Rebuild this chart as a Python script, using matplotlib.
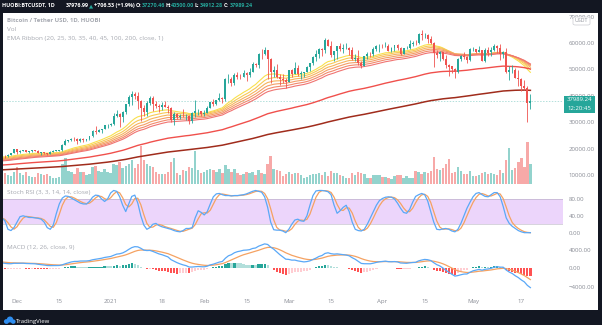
import numpy as np
import pandas as pd
import matplotlib
matplotlib.use("Agg")
import matplotlib.pyplot as plt
from matplotlib.patches import Rectangle, Ellipse, FancyBboxPatch

# ---------------- data (HUOBI BTCUSDT, daily, 2020-11-26 .. 2021-05-20) ----------------
start_date = "2020-11-26"
ref_date = "2020-12-01"

opens = [18719, 17149, 17139, 17719, 18185,
         19696, 18765, 19204, 19422, 18650, 19148, 19359, 19166, 18324, 18541, 18254, 18036, 18808, 19175, 19273, 19426, 21335, 22797, 23107, 23821, 23455, 22719, 23810, 23232, 23729, 24712, 26493, 26281, 27079, 27385, 28875,
         28923, 29331, 32176, 33000, 31989, 33950, 36769, 39433, 40586, 40088, 38150, 35410, 34049, 37371, 39145, 36737, 35994, 35824, 36623, 35901, 35468, 30851, 32950, 32078, 32259, 32254, 32464, 30362, 33368, 34246, 34262,
         33092, 33517, 35472, 37620, 36936, 38289, 39181, 38795, 46374, 46420, 44807, 47968, 47298, 47156, 48580, 47911, 49134, 52117, 51552, 55906, 55841, 57412, 54087, 48891, 49676, 47073, 46277, 46103,
         45134, 49596, 48436, 50349, 48374, 48746, 48882, 50959, 52376, 54874, 55851, 57773, 57221, 61188, 58976, 55605, 56900, 58912, 57641, 58030, 58100, 57352, 54083, 54342, 52303, 51293, 55025, 55817, 55782, 57629, 58730,
         58739, 58720, 58981, 57094, 58216, 59124, 57988, 55954, 58087, 58092, 59778, 59999, 59860, 63576, 62959, 63159, 61334, 60006, 56150, 55663, 56471, 53813, 51739, 51102, 50047, 49004, 54030, 55033, 54825, 53556,
         57714, 57826, 56621, 57200, 53333, 57424, 56413, 57353, 58803, 58232, 55860, 56704, 49150, 49682, 49880, 46760, 46426, 43538, 42910, 37270]

highs = [18915, 17457, 17854, 18360, 19863,
         19889, 19342, 19566, 19527, 19177, 19420, 19420, 19294, 18639, 18557, 18292, 18948, 19411, 19350, 19570, 21560, 23800, 23285, 24171, 24295, 24102, 23837, 24100, 23794, 24789, 26867, 28422, 27500, 27410, 28996, 29300,
         29600, 33300, 34778, 33600, 34360, 36939, 40365, 41950, 41380, 41350, 38264, 36628, 37850, 40100, 39747, 37950, 36852, 37469, 37850, 36415, 35600, 33826, 33456, 32944, 34880, 32921, 32557, 33783, 38531, 34933, 34288,
         34717, 35984, 37662, 38708, 38310, 40955, 39700, 46794, 48200, 47310, 48678, 48985, 48150, 49707, 49010, 50689, 52618, 52530, 56368, 57700, 58352, 57508, 54183, 51374, 52041, 48424, 48394, 46638,
         49790, 50200, 52640, 51773, 49448, 49200, 51450, 52402, 54895, 57387, 58150, 58058, 61844, 61616, 60633, 56938, 58996, 60100, 59468, 59880, 58589, 58430, 55830, 57200, 53237, 55073, 56700, 56559, 58400, 59368, 59800,
         59490, 60200, 59791, 58500, 59252, 59475, 58650, 58153, 58869, 61218, 60659, 61300, 63777, 64854, 63800, 63520, 62500, 60499, 57526, 57000, 56757, 55460, 52120, 51166, 50567, 54356, 55466, 56428, 55200, 57963,
         58458, 57912, 58981, 57237, 57939, 58400, 58650, 59500, 59300, 59600, 56870, 58000, 51367, 51560, 50700, 49800, 46643, 45800, 43546, 40500]

lows = [16188, 16438, 16865, 17517, 18185,
        18001, 18330, 18925, 18565, 18500, 18857, 18902, 18200, 17650, 17911, 17572, 18021, 18711, 19000, 19050, 19278, 21230, 22350, 22750, 23060, 21815, 22353, 22600, 22703, 23433, 24500, 25700, 26101, 25880, 27320, 27850,
        28624, 28946, 31962, 28130, 29900, 33288, 36300, 36500, 38720, 35111, 30420, 32531, 32380, 36701, 34408, 35357, 33850, 34800, 35844, 33400, 30071, 28850, 31390, 31106, 32000, 30837, 29241, 29842, 31915, 32825, 32270,
        32296, 33418, 35362, 36161, 36570, 38215, 37351, 37988, 45000, 43727, 43994, 46400, 46202, 47014, 45500, 47003, 48947, 50901, 50710, 53863, 55477, 46200, 44892, 47003, 46751, 44108, 45000, 43000,
        45115, 47047, 48100, 47500, 46300, 47070, 48882, 49274, 51845, 53005, 54272, 55013, 56078, 58966, 54600, 53271, 54124, 57023, 56270, 57820, 55450, 53650, 53000, 51700, 50427, 51283, 53966, 54691, 54901, 57072, 56769,
        57935, 58428, 56955, 56478, 56817, 57333, 55473, 55700, 57670, 57875, 59017, 59360, 59770, 61301, 62020, 60000, 59580, 50931, 54221, 53329, 53695, 50400, 47500, 48750, 46930, 48753, 53222, 53813, 52330, 53013,
        57053, 56044, 56436, 53046, 52901, 55200, 55250, 56957, 56235, 53400, 54370, 48600, 46000, 48805, 46650, 43825, 42001, 42250, 30000, 34912]

closes = [17149, 17139, 17719, 18185, 19696,
          18765, 19204, 19422, 18650, 19148, 19359, 19166, 18324, 18541, 18254, 18036, 18808, 19175, 19273, 19426, 21335, 22797, 23107, 23821, 23455, 22719, 23810, 23232, 23729, 24712, 26493, 26281, 27079, 27385, 28875, 28923,
          29331, 32178, 33000, 31988, 33950, 36769, 39432, 40582, 40088, 38150, 35404, 34051, 37371, 39144, 36742, 35994, 35828, 36631, 35891, 35468, 30850, 32945, 32078, 32259, 32254, 32467, 30366, 33364, 34252, 34262, 33092,
          33526, 35466, 37618, 36936, 38290, 39186, 38795, 46374, 46420, 44807, 47969, 47287, 47153, 48577, 47911, 49133, 52119, 51552, 55906, 55841, 57408, 54087, 48892, 49676, 47073, 46276, 46106, 45135,
          49587, 48440, 50349, 48374, 48751, 48882, 50971, 52376, 54884, 55851, 57773, 57221, 61188, 58968, 55605, 56900, 58912, 57648, 58030, 58102, 57351, 54083, 54340, 52303, 51293, 55025, 55817, 55777, 57628, 58730, 58740,
          58720, 58981, 57094, 58215, 59124, 57988, 56000, 58089, 58090, 59778, 59999, 59860, 63575, 62959, 63159, 61334, 60006, 56150, 55633, 56473, 53813, 51758, 51094, 50047, 49004, 54021, 55034, 54824, 53555, 57750,
          57828, 56631, 57200, 53333, 57424, 56397, 57357, 58803, 58232, 55860, 56704, 49150, 49716, 49880, 46760, 46456, 43538, 42910, 37270, 37989.24]

volumes = [40, 28, 22, 20, 30,
           42, 28, 22, 30, 20, 18, 17, 27, 25, 22, 25, 20, 16, 15, 18, 50, 65, 33, 30, 25, 40, 30, 30, 22, 25, 42, 45, 33, 30, 37, 30,
           28, 50, 48, 55, 40, 45, 50, 60, 40, 50, 95, 60, 50, 45, 42, 30, 25, 25, 25, 30, 55, 65, 28, 22, 35, 33, 42, 40, 82, 35, 28,
           30, 35, 38, 35, 30, 38, 28, 48, 38, 30, 38, 28, 22, 25, 30, 28, 30, 22, 35, 28, 25, 50, 70, 38, 35, 33, 20, 25,
           30, 25, 28, 28, 22, 15, 18, 22, 25, 25, 28, 22, 30, 20, 33, 28, 28, 22, 20, 15, 15, 28, 22, 30, 28, 25, 15, 15, 22, 22, 22,
           18, 18, 15, 12, 20, 22, 22, 15, 20, 15, 15, 33, 30, 25, 30, 28, 33, 68, 38, 35, 40, 50, 62, 28, 30, 42, 33, 25, 25, 33,
           20, 20, 22, 28, 30, 25, 28, 25, 22, 35, 28, 60, 90, 35, 40, 55, 65, 42, 105, 50]

stoch_k = [35, 28, 8, 5, 12,
           25, 38, 40, 38, 36, 36, 35, 34, 32, 25, 12, 8, 18, 45, 68, 82, 87, 86, 82, 78, 74, 70, 68, 68, 74, 84, 89, 88, 80, 74, 80,
           94, 100, 98, 85, 65, 50, 68, 86, 89, 70, 40, 18, 8, 12, 20, 22, 17, 14, 12, 10, 8, 5, 3, 2, 5, 10, 10, 12, 35, 52, 48,
           42, 50, 68, 85, 92, 93, 90, 88, 88, 87, 88, 88, 89, 90, 92, 95, 98, 100, 98, 96, 85, 60, 25, 7, 6, 6, 4, 0,
           8, 20, 30, 32, 28, 27, 40, 65, 88, 99, 100, 100, 99, 97, 90, 65, 46, 52, 60, 65, 50, 25, 8, 5, 4, 8, 20, 35, 50, 65, 76,
           81, 84, 85, 84, 80, 70, 58, 48, 46, 55, 72, 86, 90, 93, 90, 75, 50, 25, 8, 7, 9, 10, 8, 4, 2, 8, 22, 40, 58, 72,
           85, 93, 95, 90, 86, 85, 90, 95, 95, 85, 62, 35, 22, 15, 10, 5, 2, 0, 0, 0]

# indicator settings and starting values read at the left edge of the chart
ribbon_lengths = [20, 25, 30, 35, 40, 45]
ribbon_seeds = [16800, 16450, 16100, 15800, 15500, 15250]
ema100_seed, ema200_seed = 13700, 11900
macd_fast_seed, macd_slow_seed, macd_signal_seed = 17550, 16250, 1400

tick_dates = ["2020-12-01", "2020-12-15", "2021-01-01", "2021-01-18", "2021-02-01", "2021-02-15",
              "2021-03-01", "2021-03-15", "2021-04-01", "2021-04-15", "2021-05-01", "2021-05-17"]
tick_labels = ["Dec", "15", "2021", "18", "Feb", "15", "Mar", "15", "Apr", "15", "May", "17"]

price_ticks = [10000, 20000, 30000, 40000, 50000, 60000, 70000]
stoch_ticks = [0, 40, 80]
macd_ticks = [-4000, 0, 4000]

# ---------------- derived ----------------
o = np.array(opens, float); h = np.array(highs, float)
l = np.array(lows, float); c = np.array(closes, float)
v = np.array(volumes, float)
dates = pd.date_range(start_date, periods=len(c), freq="D")
x = np.array((dates - pd.Timestamp(ref_date)).days, float)


def ema(values, length, seed):
    a = 2.0 / (length + 1)
    out, prev = [], seed
    for val in values:
        prev = prev + a * (val - prev)
        out.append(prev)
    return np.array(out)


ribbons = [ema(c, n, s) for n, s in zip(ribbon_lengths, ribbon_seeds)]
e100 = ema(c, 100, ema100_seed)
e200 = ema(c, 200, ema200_seed)
macd = ema(c, 12, macd_fast_seed) - ema(c, 26, macd_slow_seed)
signal = ema(macd, 9, macd_signal_seed)
hist = macd - signal
k = np.array(stoch_k, float)
d = pd.Series(k).rolling(3, min_periods=1).mean().values

# ---------------- figure ----------------
W, H = 602, 325
plt.rcParams['font.family'] = ['Open Sans', 'DejaVu Sans']
fig = plt.figure(figsize=(W / 100, H / 100), dpi=100)
DARK = '#131722'
fig.patch.set_facecolor(DARK)


def box(x0, y0, x1, y1):
    return [x0 / W, 1 - y1 / H, (x1 - x0) / W, (y1 - y0) / H]


def fxy(px, py):
    return px / W, 1 - py / H


fig.add_artist(Rectangle(fxy(3, 310), 595 / W, 297 / H, transform=fig.transFigure,
                         fc='white', ec='none', zorder=-10))

ax_vol = fig.add_axes(box(3, 13, 563, 184))
ax = fig.add_axes(box(3, 13, 563, 184))
ax_st = fig.add_axes(box(3, 185, 563, 238))
ax_md = fig.add_axes(box(3, 239, 563, 293))

XL = (-4.64, 180.8)
TXT = '#8A8D96'
for a in (ax_vol, ax, ax_st, ax_md):
    a.set_facecolor('none')
    for s in a.spines.values():
        s.set_visible(False)
    a.set_xlim(*XL)
    a.tick_params(axis='x', bottom=False, labelbottom=False)
    a.tick_params(axis='y', left=False, labelleft=False)

UP, DN = '#26A69A', '#EF5350'
up = c >= o
cols = np.where(up, UP, DN)

# volume
ax_vol.set_ylim(0, v.max() * 171 / 42)
ax_vol.bar(x, v, width=0.8, color=np.where(up, '#93D3CD', '#F7A9A8'), lw=0)
ax_vol.set_yticks([])

# price pane
ax.set_ylim(6591, 71364)
ax.axhline(c[-1], color='#26A69A', lw=0.7, alpha=0.35, ls=(0, (1.5, 1.5)), zorder=1)
ribbon_cols = ['#F9E04C', '#F8C956', '#F6B45E', '#F49E66', '#F2896C', '#F07472']
for r, col in zip(ribbons, ribbon_cols):
    ax.plot(x, r, color=col, lw=0.8, zorder=2)
ax.plot(x, e100, color='#F0504C', lw=1.0, zorder=2)
ax.plot(x, e200, color='#A02C1C', lw=1.1, zorder=2)
ax.vlines(x, l, h, colors=cols, lw=0.6, zorder=3)
body = np.maximum(np.abs(c - o), 120)
ax.bar(x, body, bottom=np.minimum(o, c), width=0.64, color=cols, lw=0, zorder=4)

ax.yaxis.tick_right()
ax.set_yticks(price_ticks)
ax.set_yticklabels([f"{t:.2f}" for t in price_ticks])
ax.tick_params(axis='y', right=True, labelright=True, length=0, pad=4.3,
               labelsize=4.4, labelcolor=TXT)

# stoch RSI pane
ax_st.set_ylim(-12.6, 113)
ax_st.fill_between(XL, 20, 80, color='#ECD5FB', lw=0, zorder=0)
for lev in (20, 80):
    ax_st.axhline(lev, color='#A09AAE', lw=0.6, ls=(0, (1.2, 1.2)), zorder=1)
ax_st.plot(x, k, color='#5AA8F7', lw=0.9, zorder=3)
ax_st.plot(x, d, color='#F5A262', lw=0.9, zorder=2)
ax_st.yaxis.tick_right()
ax_st.set_yticks(stoch_ticks)
ax_st.set_yticklabels([f"{t:.2f}" for t in stoch_ticks])
ax_st.tick_params(axis='y', right=True, labelright=True, length=0, pad=4.3,
                  labelsize=4.4, labelcolor=TXT)

# MACD pane
ax_md.set_ylim(-5310, 6300)
prev = np.concatenate([[hist[0]], hist[:-1]])
hcols = np.where(hist >= 0,
                 np.where(hist >= prev, '#26A69A', '#B2DFDB'),
                 np.where(hist >= prev, '#FFCDD2', '#FF5252'))
ax_md.bar(x, hist, width=0.75, color=hcols, lw=0, zorder=1)
ax_md.plot(x, macd, color='#5AA8F7', lw=0.9, zorder=3)
ax_md.plot(x, signal, color='#F5A262', lw=0.9, zorder=2)
ax_md.yaxis.tick_right()
ax_md.set_yticks(macd_ticks)
ax_md.set_yticklabels([f"{t:.2f}".replace('-', '\u2212') for t in macd_ticks])
ax_md.tick_params(axis='y', right=True, labelright=True, length=0, pad=4.3,
                  labelsize=4.4, labelcolor=TXT)
tx = (pd.to_datetime(tick_dates) - pd.Timestamp(ref_date)).days
ax_md.set_xticks(tx)
ax_md.set_xticklabels(tick_labels)
ax_md.tick_params(axis='x', bottom=True, labelbottom=True, length=0, pad=4.3,
                  labelsize=4.4, labelcolor=TXT)

# pane legends
LG = '#A5A8B0'
fig.text(*fxy(7, 20.5), "Bitcoin / Tether USD, 1D, HUOBI", fontsize=4.3, color=LG,
         fontweight='bold', va='center', ha='left')
fig.text(*fxy(7, 29.5), "Vol", fontsize=4.6, color=LG, va='center', ha='left')
fig.text(*fxy(7, 38.5), "EMA Ribbon (20, 25, 30, 35, 40, 45, 100, 200, close, 1)", fontsize=4.6,
         color=LG, va='center', ha='left')
fig.text(*fxy(7, 192.5), "Stoch RSI (3, 3, 14, 14, close)", fontsize=4.6, color=LG,
         va='center', ha='left')
fig.text(*fxy(7, 247), "MACD (12, 26, close, 9)", fontsize=4.6, color=LG, va='center', ha='left')

# header bar
fig.add_artist(Rectangle(fxy(0, 13), 1, 13 / H, transform=fig.transFigure, fc=DARK, ec='none', zorder=5))
hdr = [("HUOBI:BTCUSDT, 1D", 1.5, 'white', 'bold'), ("37976.99", 66, 'white', 'bold'),
       ("\u25B2", 88.5, '#26A69A', 'normal'), ("+706.53 (+1.9%)", 94, 'white', 'bold'),
       ("O:", 135.5, 'white', 'bold'), ("37270.46", 142, '#26A69A', 'bold'),
       ("H:", 165, 'white', 'bold'), ("40500.00", 171, '#26A69A', 'bold'),
       ("L:", 194.5, 'white', 'bold'), ("34912.28", 200, '#26A69A', 'bold'),
       ("C:", 223.5, 'white', 'bold'), ("37989.24", 230, '#26A69A', 'bold')]
for t, px, col, fw in hdr:
    fig.text(*fxy(px, 5.5), t, fontsize=3.9, color=col, fontweight=fw, va='center', ha='left', zorder=6)

# USDT tag
fig.add_artist(FancyBboxPatch(fxy(573, 25), 17 / W, 8 / H, boxstyle='round,pad=0,rounding_size=0.004',
                              transform=fig.transFigure, fc='white', ec='#C9CBD1', lw=0.5, zorder=4))
fig.text(*fxy(581.5, 21), "USDT", fontsize=3.8, color=TXT, va='center', ha='center', zorder=5)

# last price label
fig.canvas.draw()
py = H - ax.transData.transform((0, c[-1]))[1]
fig.add_artist(Rectangle(fxy(564, py + 11.9), 31 / W, 16.7 / H, transform=fig.transFigure,
                         fc='#26A69A', ec='none', zorder=4))
fig.text(*fxy(579.5, py - 1.2), f"{c[-1]:.2f}", fontsize=4.3, color='white', va='center',
         ha='center', zorder=5)
fig.text(*fxy(579.5, py + 7.0), "12:20:45", fontsize=4.3, color='white', va='center',
         ha='center', zorder=5)

# TradingView logo
for cx, cy, rx, ry in [(6.5, 321.5, 2.6, 2.4), (10, 319.5, 3.2, 3.0), (13.2, 321.6, 2.4, 2.2)]:
    fig.add_artist(Ellipse(fxy(cx, cy), 2 * rx / W, 2 * ry / H, transform=fig.transFigure,
                           fc='#2E8DEF', ec='none', zorder=4))
fig.text(*fxy(16, 321), "TradingView", fontsize=4.3, color='white', va='center', ha='left', zorder=5)

fig.savefig("out.png", dpi=100, facecolor=DARK)
